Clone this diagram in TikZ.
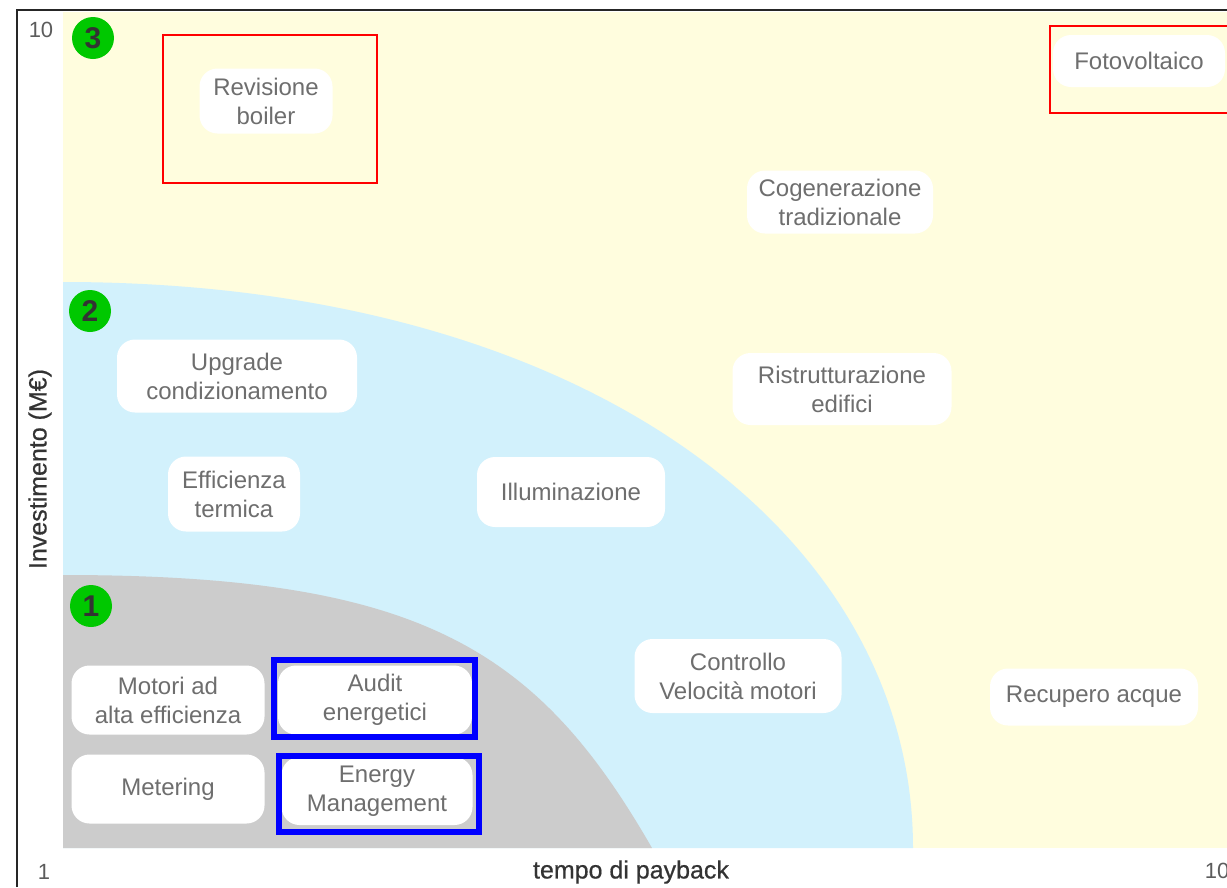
\documentclass[tikz,border=0pt]{standalone}
\usepackage{fontspec}
\setmainfont{Liberation Sans}
\definecolor{bgyellow}{HTML}{FFFDDE}
\definecolor{bgblue}{HTML}{D2F1FC}
\definecolor{bggray}{HTML}{CCCCCC}
\definecolor{tilegray}{HTML}{6E6E6E}
\definecolor{axisgray}{HTML}{333333}
\definecolor{badgegreen}{HTML}{00C800}
\tikzset{
  tile/.style={fill=white, rounded corners=18pt, text=tilegray, align=center,
    inner sep=0pt, font=\fontsize{24}{29}\selectfont},
  badge/.style={circle, fill=badgegreen, minimum size=42pt, inner sep=0pt,
    text=axisgray, font=\fontsize{30}{30}\selectfont\bfseries},
  redbox/.style={draw=red, line width=1.5pt},
  bluebox/.style={draw=blue, line width=6pt},
  ticklbl/.style={text=axisgray!80, font=\fontsize{22}{22}\selectfont},
  axislbl/.style={text=axisgray, font=\fontsize{25}{25}\selectfont\addfontfeature{FakeBold=0.6}}
}
\begin{document}
\begin{tikzpicture}[x=1pt, y=-1pt]
  \useasboundingbox (0,0) rectangle (1227,887);
  % zones
  \fill[bgyellow] (63,12) rectangle (1227,848);
  \fill[bgblue] (63,848) -- (63,282) .. controls (590,282) and (913,537) .. (913,848) -- cycle;
  \fill[bggray] (63,848) -- (63,575) .. controls (420,575) and (537,648) .. (652,848) -- cycle;
  % frame
  \draw[line width=2pt, black!85] (17,887) -- (17,10) -- (1227,10);
  % axis texts
  \node[ticklbl] (ymax) at (41,30) {10};
  \node[ticklbl] (ymin) at (44,872) {1};
  \node[ticklbl] (xmax) at (1217,871) {10};
  \node[axislbl] (xlabel) at (631,872) {tempo di payback};
  \node[axislbl, rotate=90] (ylabel) at (40,469) {Investimento (M€)};
  % zone numbers
  \node[badge] (zone3) at (93,38) {3};
  \node[badge] (zone2) at (90,311) {2};
  \node[badge] (zone1) at (91,606) {1};
  % interventions
  \node[tile, minimum width=133pt, minimum height=65pt] (boiler) at (266,101) {Revisione\\boiler};
  \node[tile, minimum width=172pt, minimum height=52pt] (fotov) at (1139,61) {Fotovoltaico};
  \node[tile, minimum width=186pt, minimum height=63pt] (cogen) at (840,202) {Cogenerazione\\tradizionale};
  \node[tile, minimum width=240pt, minimum height=73pt] (upgrade) at (237,376) {Upgrade\\condizionamento};
  \node[tile, minimum width=219pt, minimum height=72pt] (ristr) at (842,389) {Ristrutturazione\\edifici};
  \node[tile, minimum width=132pt, minimum height=75pt] (termica) at (234,494) {Efficienza\\termica};
  \node[tile, minimum width=188pt, minimum height=70pt] (illum) at (571,492) {Illuminazione};
  \node[tile, minimum width=207pt, minimum height=74pt] (velmot) at (738,676) {Controllo\\Velocità motori};
  \node[tile, minimum width=208pt, minimum height=57pt] (acque) at (1094,697) {Recupero acque};
  \node[tile, minimum width=193pt, minimum height=69pt] (motori) at (168,700) {Motori ad\\alta efficienza};
  \node[tile, minimum width=194pt, minimum height=69pt] (audit) at (375,700) {Audit\\energetici};
  \node[tile, minimum width=193pt, minimum height=69pt] (meter) at (168,789) {Metering};
  \node[tile, minimum width=191pt, minimum height=68pt] (energy) at (377,791) {Energy\\Management};
  % highlights
  \draw[redbox] (163,35) rectangle (377,183);
  \draw[redbox] (1050,26) rectangle (1240,113);
  \draw[bluebox] (274,660) rectangle (475,737);
  \draw[bluebox] (279,756) rectangle (479,832);
\end{tikzpicture}
\end{document}
